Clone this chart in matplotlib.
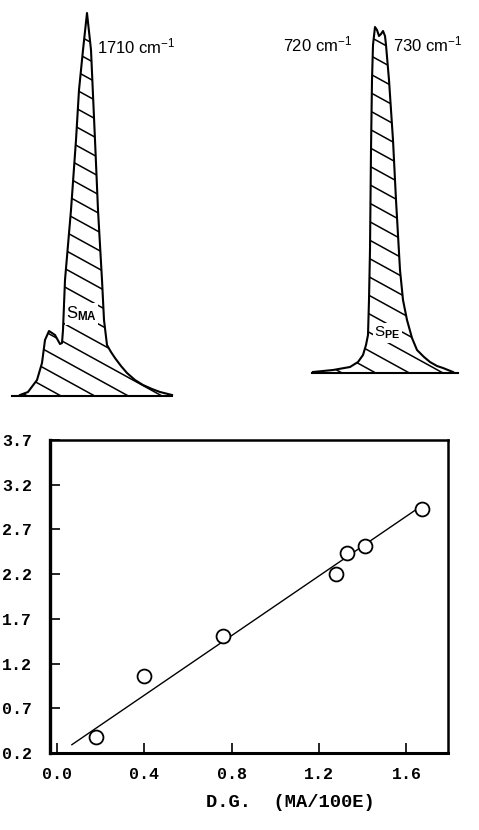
import matplotlib
matplotlib.use("Agg")
import matplotlib.pyplot as plt
import numpy as np
from matplotlib.patches import Polygon
from matplotlib.collections import LineCollection

matplotlib.rc("mathtext", fontset="custom", rm="Liberation Sans",
              bf="Liberation Sans:bold", default="regular")

# IR band sketches (position along the trace, height above baseline)
ma_pos = [20, 28, 37, 42, 45, 49, 55, 60, 62, 63, 65, 71, 76, 79, 83, 87,
          91, 95, 98, 102, 104, 107, 111, 115, 121, 127, 135, 143, 152,
          160, 172]
ma_abs = [1, 4, 16, 33, 56, 65, 61, 52, 53, 66, 116, 186, 256, 306, 346,
          383, 346, 256, 186, 116, 76, 51, 44, 38, 30, 23, 16, 11, 7, 4, 1]

pe_pos = [313, 333, 350, 358, 363, 366, 368, 369, 370, 371, 372, 373, 375,
          377, 379, 381, 383, 385, 386, 389, 393, 396, 400, 403, 407, 412,
          417, 424, 430, 437, 443, 453]
pe_abs = [1, 3, 6, 11, 18, 28, 38, 73, 123, 223, 293, 328, 346, 343, 337,
          339, 342, 337, 328, 293, 233, 173, 103, 73, 53, 35, 23, 16, 11,
          7, 5, 1]

# Degree of grafting vs. band area ratio
dg = [0.18, 0.40, 0.76, 1.28, 1.33, 1.41, 1.67]
ratio = [0.38, 1.06, 1.51, 2.20, 2.44, 2.51, 2.93]
fit_slope = 1.67
fit_intercept = 0.176
fit_range = [0.07, 1.66]

W, H = 479, 830
fig = plt.figure(figsize=(W / 100, H / 100), dpi=100)


def hatch_fill(ax, xs, ys, spacing=18.5, slope=0.55):
    poly = Polygon(np.column_stack([xs, ys]), closed=True,
                   facecolor="none", edgecolor="none")
    ax.add_patch(poly)
    x0, x1 = min(xs), max(xs)
    y0, y1 = min(ys), max(ys)
    starts = np.arange(y0 - slope * (x1 - x0) - spacing, y1 + spacing, spacing)
    segs = [[(x0, c), (x1, c + slope * (x1 - x0))] for c in starts]
    lc = LineCollection(segs, colors="black", linewidths=1.1)
    ax.add_collection(lc)
    lc.set_clip_path(poly)


# Top: the two absorption bands, drawn in pixel-like units
top = fig.add_axes([0, 415 / H, 1, 415 / H])
top.set_xlim(0, W)
top.set_ylim(415, 0)
top.axis("off")

for pos, ab, base, span in [(ma_pos, ma_abs, 396, (12, 172)),
                            (pe_pos, pe_abs, 373, (312, 458))]:
    ys = base - np.array(ab)
    hatch_fill(top, pos, ys)
    top.plot(pos, ys, color="black", lw=1.5, solid_joinstyle="round")
    top.plot(span, [base, base], color="black", lw=1.5)

band_font = dict(family="Liberation Sans", fontsize=12, va="center")
top.text(97, 46, r"1710 cm$^{-1}$", **band_font)
top.text(283, 44, r"720 cm$^{-1}$", **band_font)
top.text(393, 44, r"730 cm$^{-1}$", **band_font)

lbl_box = dict(facecolor="white", edgecolor="none", pad=1)
top.text(66, 314, r"S$_{\bf MA}$", family="Liberation Sans", fontsize=12,
         va="center", bbox=lbl_box)
top.text(374, 333, r"S$_{\bf PE}$", family="Liberation Sans", fontsize=11,
         va="center", bbox=lbl_box)

# Bottom: calibration plot
ax = fig.add_axes([50 / W, 77 / H, 398 / W, 313 / H])
fx = np.array(fit_range)
ax.plot(fx, fit_intercept + fit_slope * fx, color="black", lw=1.0, zorder=1)
ax.plot(dg, ratio, "o", ms=10, mfc="white", mec="black", mew=1.3, zorder=3)

ax.set_xlim(-0.03, 1.79)
ax.set_ylim(0.2, 3.7)
ax.set_xticks([0.0, 0.4, 0.8, 1.2, 1.6])
ax.set_yticks([0.2, 0.7, 1.2, 1.7, 2.2, 2.7, 3.2, 3.7])
ax.xaxis.set_major_formatter(matplotlib.ticker.FormatStrFormatter("%.1f"))
ax.yaxis.set_major_formatter(matplotlib.ticker.FormatStrFormatter("%.1f"))
ax.tick_params(axis="both", direction="in", length=7, width=1.2,
               labelsize=12)
ax.tick_params(axis="y", pad=13)
ax.tick_params(axis="x", pad=10)
for lab in ax.get_xticklabels() + ax.get_yticklabels():
    lab.set_family("Liberation Mono")
    lab.set_fontweight("bold")

ax.spines["left"].set_linewidth(2.4)
ax.spines["bottom"].set_linewidth(2.2)
ax.spines["top"].set_linewidth(1.8)
ax.spines["right"].set_linewidth(1.8)

fig.text(290 / W, 1 - 802 / H, "D.G.  (MA/100E)", family="Liberation Mono",
         fontweight="bold", fontsize=13.5, ha="center", va="center")

fig.savefig("out.png", dpi=100)
